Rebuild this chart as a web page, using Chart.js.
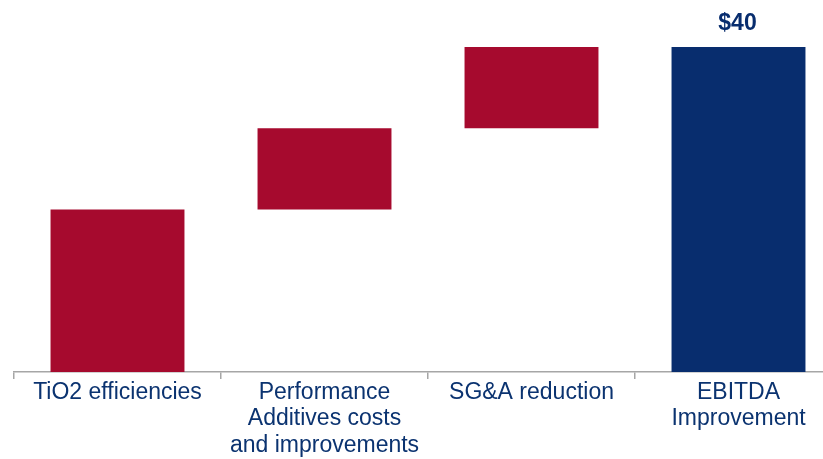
<!DOCTYPE html>
<html>
<head>
<meta charset="utf-8">
<script src="https://cdn.jsdelivr.net/npm/chart.js@4.4.1/dist/chart.umd.min.js"></script>
<style>
  html, body { margin: 0; padding: 0; background: #fff; overflow: hidden; }
  #wrap { width: 842px; height: 459px; position: relative; }
</style>
</head>
<body>
<div id="wrap"><canvas id="c"></canvas></div>
<script>
// EBITDA improvement bridge ($ millions)
const categories = [
  ['TiO2 efficiencies'],
  ['Performance', 'Additives costs', 'and improvements'],
  ['SG&A reduction'],
  ['EBITDA', 'Improvement']
];
const increments = [20, 10, 10];
const totalValue = 40;
const totalLabel = '$40';

const RED = '#A60A2E';
const NAVY = '#082D6E';
const TEXT = '#0B3370';

// build floating segments: each step starts where the previous one ended
const segments = [];
let running = 0;
for (const v of increments) {
  segments.push([running, running + v]);
  running += v;
}
segments.push([0, totalValue]);
const colors = increments.map(() => RED).concat([NAVY]);

const totalLabelPlugin = {
  id: 'totalLabel',
  afterDatasetsDraw(chart) {
    const meta = chart.getDatasetMeta(0);
    const bar = meta.data[meta.data.length - 1];
    const ctx = chart.ctx;
    ctx.save();
    ctx.font = 'bold 23px "Liberation Sans", Arial, sans-serif';
    ctx.fillStyle = NAVY;
    ctx.textAlign = 'center';
    ctx.textBaseline = 'bottom';
    ctx.fillText(totalLabel, bar.x - 1, bar.y - 12);
    ctx.restore();
  }
};

new Chart(document.getElementById('c'), {
  type: 'bar',
  data: {
    labels: categories,
    datasets: [{
      data: segments,
      backgroundColor: colors,
      borderWidth: 0,
      categoryPercentage: 1,
      barPercentage: 0.647
    }]
  },
  options: {
    responsive: true,
    maintainAspectRatio: false,
    animation: false,
    layout: { padding: { left: 14, right: 0, top: 47, bottom: 0 } },
    plugins: { legend: { display: false }, tooltip: { enabled: false } },
    scales: {
      x: {
        grid: {
          offset: true,
          drawOnChartArea: false,
          drawTicks: true,
          tickLength: 7,
          color: '#A6A6A6',
          lineWidth: 1.5
        },
        border: { display: true, color: '#A6A6A6', width: 1.5 },
        ticks: {
          color: TEXT,
          padding: 0,
          maxRotation: 0,
          autoSkip: false,
          font: { family: '"Liberation Sans", Arial, sans-serif', size: 23, lineHeight: 1.16 }
        }
      },
      y: {
        display: false,
        min: 0,
        max: totalValue
      }
    }
  },
  plugins: [totalLabelPlugin]
});
</script>
</body>
</html>
